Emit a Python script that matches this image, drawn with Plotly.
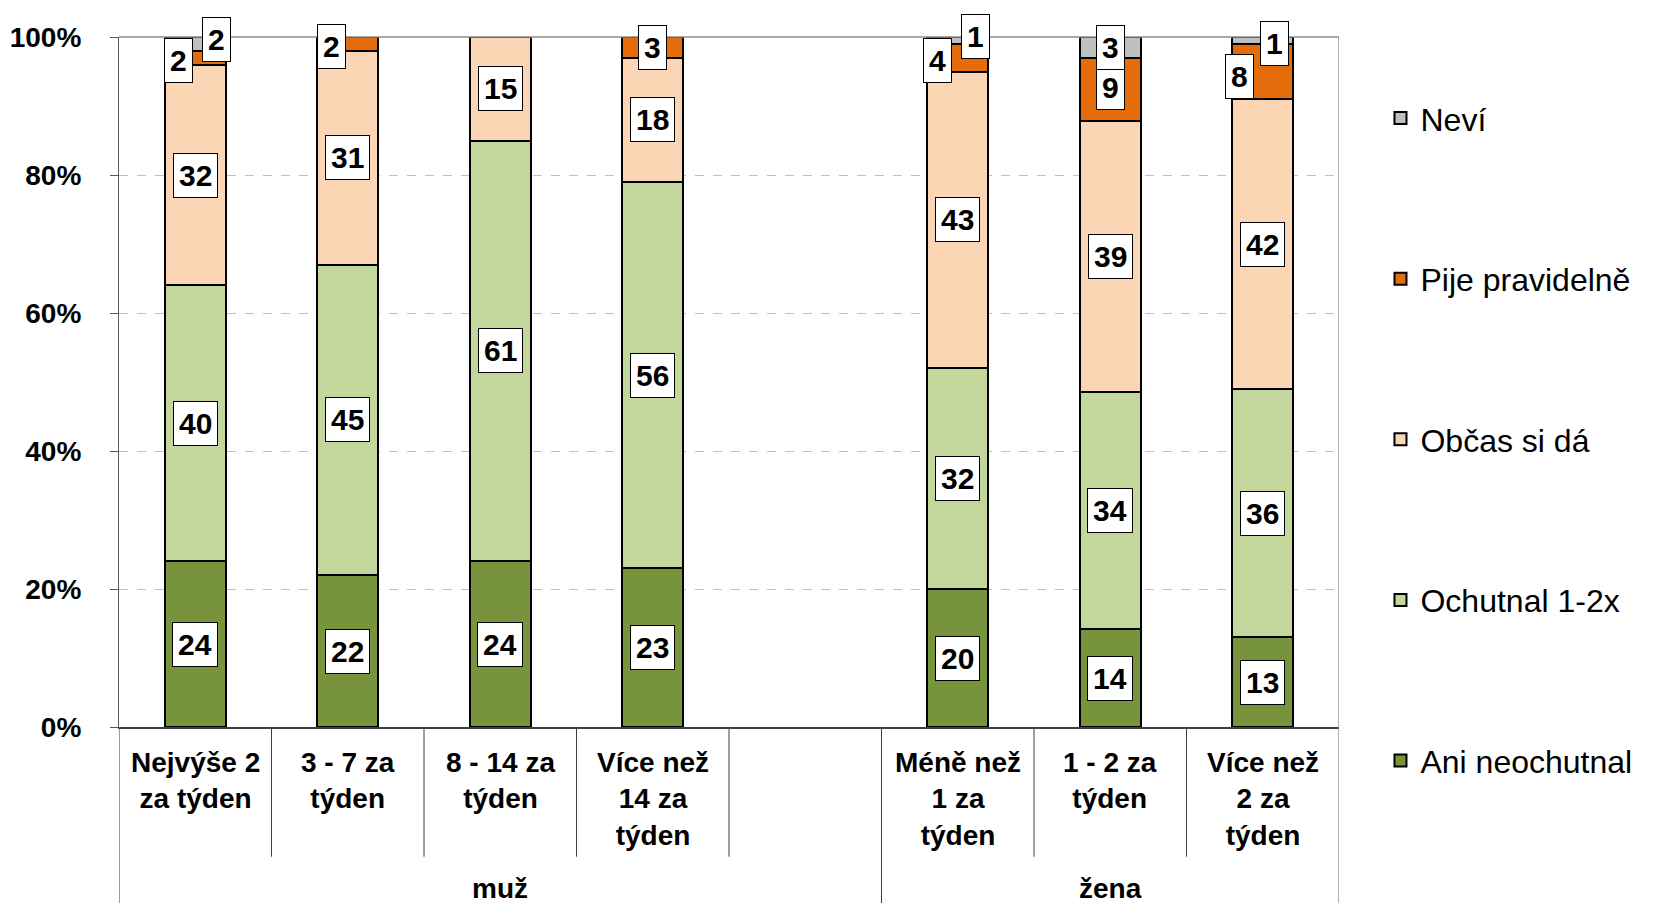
import plotly.graph_objects as go

# categories (bars) and their group
categories = ['Nejvýše 2<br>za týden', '3 - 7 za<br>týden', '8 - 14 za<br>týden',
              'Více než<br>14 za<br>týden',
              'Méně než<br>1 za<br>týden', '1 - 2 za<br>týden', 'Více než<br>2 za<br>týden']
groups = ['muž', 'muž', 'muž', 'muž', 'žena', 'žena', 'žena']
group_names = ['muž', 'žena']

# series values (shares in %)
series_names = ['Ani neochutnal', 'Ochutnal 1-2x', 'Občas si dá', 'Pije pravidelně', 'Neví']
ani = [24, 22, 24, 23, 20, 14, 13]
ochutnal = [40, 45, 61, 56, 32, 34, 36]
obcas = [32, 31, 15, 18, 43, 39, 42]
pije = [2, 2, 0, 3, 4, 9, 8]
nevi = [2, 0, 0, 0, 1, 3, 1]

y_ticks = [0, 20, 40, 60, 80, 100]
y_tick_labels = ['0%', '20%', '40%', '60%', '80%', '100%']

series_values = [ani, ochutnal, obcas, pije, nevi]
colors = ['#77933C', '#C3D69B', '#FCD5B5', '#E46C0A', '#BFBFBF']

# slots per group on the axis (muž has one empty slot at its end)
group_slots = {'muž': 5, 'žena': 3}
slot_start = {}
s = 0
for g in group_names:
    slot_start[g] = s
    s += group_slots[g]
n_slots = s
x_pos = []
for i, g in enumerate(groups):
    x_pos.append(slot_start[g] + groups[:i].count(g))

# small labels are nudged aside (pixels)
label_shift = {
    (0, 3): (-17, -3), (0, 4): (21, 4),
    (1, 3): (-16, -3),
    (4, 3): (-20, -3), (4, 4): (18, 4),
    (5, 3): (0, 2), (5, 4): (0, 0),
    (6, 3): (-23, -5), (6, 4): (12, -3),
}

FONT = 'Liberation Sans, Arial, sans-serif'

fig = go.Figure()
for i, (name, vals, col) in enumerate(zip(series_names, series_values, colors)):
    fig.add_trace(go.Bar(
        x=x_pos, y=vals, name=name, width=0.4,
        marker=dict(color=col, line=dict(color='black', width=2)),
        legendgroup=name, legendrank=len(series_names) - i, hoverinfo='skip',
    ))

# value labels in white boxes, at centre of normalized segments
annotations = []
for b in range(len(categories)):
    total = sum(v[b] for v in series_values)
    cum = 0
    for k, vals in enumerate(series_values):
        v = vals[b]
        if v > 0:
            mid = (cum + v / 2) / total * 100
            dx, dy = label_shift.get((b, k), (0, 0))
            annotations.append(dict(
                x=x_pos[b], y=mid, xref='x', yref='y', text=str(v), showarrow=False,
                font=dict(family=FONT, size=30, color='black', weight='bold'),
                bgcolor='white', bordercolor='black', borderwidth=1, borderpad=5,
                xshift=dx, yshift=dy,
            ))
        cum += v

# category table below the axis
y_sub_bottom = -0.188
y_bottom = -0.256
for b, cat in enumerate(categories):
    annotations.append(dict(
        x=x_pos[b], y=-0.026, xref='x', yref='paper', yanchor='top', text=cat,
        showarrow=False, font=dict(family=FONT, size=28, color='black', weight='bold'),
    ))
for g in group_names:
    annotations.append(dict(
        x=slot_start[g] + (group_slots[g] - 1) / 2, y=-0.234, xref='x', yref='paper',
        yanchor='middle', text=g, showarrow=False,
        font=dict(family=FONT, size=28, color='black', weight='bold'),
    ))

shapes = []
# top border and right border
shapes.append(dict(type='line', xref='x', yref='paper', x0=-0.5, x1=n_slots - 0.5, y0=1, y1=1,
                   line=dict(color='#8C8C8C', width=1.5)))
shapes.append(dict(type='line', xref='x', yref='paper', x0=n_slots - 0.5, x1=n_slots - 0.5,
                   y0=1, y1=y_bottom, line=dict(color='#7F7F7F', width=1.2)))
shapes.append(dict(type='line', xref='x', yref='paper', x0=-0.5, x1=-0.5,
                   y0=0, y1=y_bottom, line=dict(color='#595959', width=1.2)))
for g in group_names:
    st = slot_start[g]
    if st > 0:
        shapes.append(dict(type='line', xref='x', yref='paper', x0=st - 0.5, x1=st - 0.5,
                           y0=0, y1=y_bottom, line=dict(color='#404040', width=1)))
    for j in range(1, group_slots[g]):
        xx = st + j - 0.5
        shapes.append(dict(type='line', xref='x', yref='paper', x0=xx, x1=xx,
                           y0=0, y1=y_sub_bottom, line=dict(color='#404040', width=1)))

fig.update_layout(
    width=1653, height=895,
    barmode='stack', barnorm='percent',
    plot_bgcolor='white', paper_bgcolor='white',
    margin=dict(l=111, r=322, t=29, b=176, autoexpand=False),
    xaxis=dict(range=[-0.5, n_slots - 0.5], showticklabels=False, showgrid=False,
               zeroline=False, showline=True, linecolor='#404040', linewidth=1.5, ticks=''),
    yaxis=dict(range=[0, 100], tickmode='array', tickvals=y_ticks, ticktext=y_tick_labels,
               showgrid=True,
               gridcolor='#BFBFBF', griddash='dash', gridwidth=1, zeroline=False,
               showline=True, linecolor='#595959', linewidth=1.2,
               ticks='outside', ticklen=8, tickcolor='#595959', ticklabelstandoff=23,
               tickfont=dict(family=FONT, size=28, color='black', weight='bold')),
    legend=dict(x=1.034, y=0.922, xanchor='left', yanchor='top',
                traceorder='grouped', tracegroupgap=116, maxheight=880,
                font=dict(family=FONT, size=32, color='black'),
                bgcolor='rgba(0,0,0,0)'),
    annotations=annotations,
    shapes=shapes,
)

fig.write_html("out.html")
